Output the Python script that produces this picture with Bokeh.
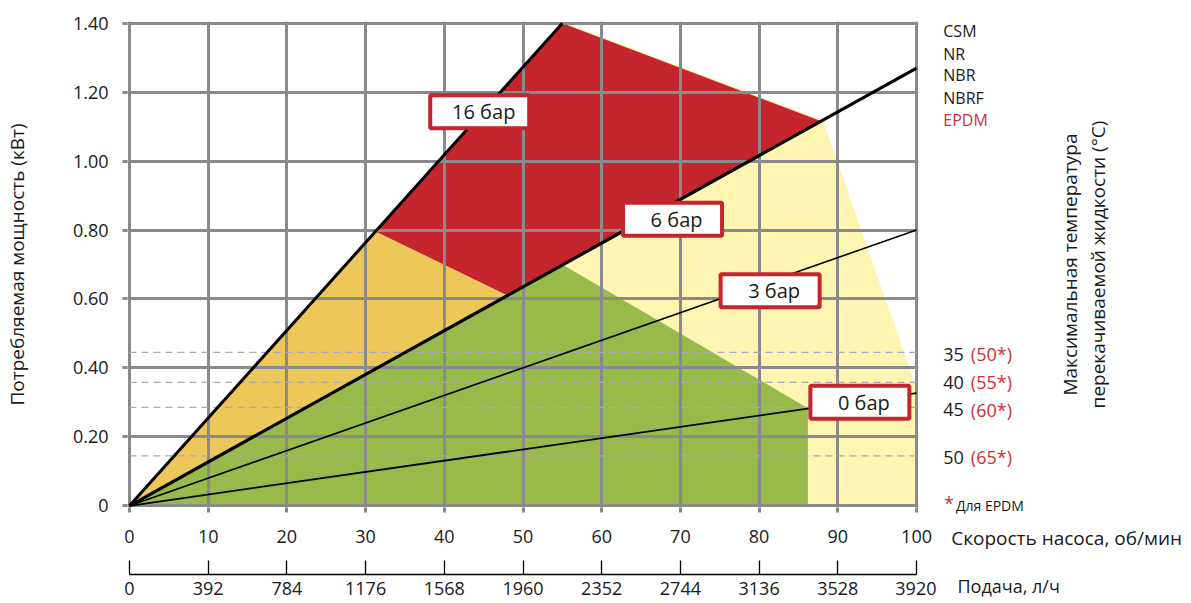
import math
from bokeh.plotting import figure
from bokeh.layouts import row
from bokeh.models import Range1d, LinearAxis, FixedTicker
from bokeh.embed import file_html
from bokeh.resources import INLINE
from bokeh.core.properties import value

# ---------------- data ----------------
speed_ticks = [0, 10, 20, 30, 40, 50, 60, 70, 80, 90, 100]
flow_ticks = [0, 392, 784, 1176, 1568, 1960, 2352, 2744, 3136, 3528, 3920]
power_ticks = [0, 0.2, 0.4, 0.6, 0.8, 1.0, 1.2, 1.4]
power_labels = ["0", "0.20", "0.40", "0.60", "0.80", "1.00", "1.20", "1.40"]

# operating regions (speed %, power kW)
yellow_x = [0, 55, 88, 100, 100]
yellow_y = [0, 1.40, 1.115, 0.33, 0]
red_x = [31.3, 55, 88, 48]
red_y = [0.795, 1.40, 1.115, 0.61]
orange_x = [0, 31.3, 48]
orange_y = [0, 0.795, 0.61]
green_x = [0, 55, 86.2, 86.2]
green_y = [0, 0.70, 0.283, 0]

# pressure lines
line16_x, line16_y = [0, 55], [0, 1.40]
line6_x, line6_y = [0, 100], [0, 1.27]
line3_x, line3_y = [0, 100], [0, 0.80]
line0_x, line0_y = [0, 100], [0, 0.327]

# temperature limit levels (dashed)
temp_levels = [0.445, 0.358, 0.2855, 0.145]

# pressure labels
box_text = ["16 бар", "6 бар", "3 бар", "0 бар"]
box_x = [44.5, 69.0, 81.4, 92.8]
box_y = [1.143, 0.831, 0.624, 0.30]

# right-hand texts (positions in chart units)
materials = ["CSM", "NR", "NBR", "NBRF"]
materials_y = [1.378, 1.312, 1.249, 1.183]
epdm_y = 1.120
temps = ["35", "40", "45", "50"]
temps_epdm = ["(50*)", "(55*)", "(60*)", "(65*)"]
temps_y = [0.4386, 0.358, 0.278, 0.140]

# ---------------- style ----------------
FONT = "Open Sans"
GRID = "#8A8A8D"
RED = "#C5252D"
YEL = "#FEF5B2"
TXT = "#1A1A1A"
RTXT = "#CC3033"

PX_X = 7.88      # px per speed unit
PX_Y = 344.29    # px per kW
X0_PAGE = 128    # page x of speed 0
Y0_PAGE = 505    # page y of power 0
H = 598

p = figure(width=936, height=H,
           x_range=Range1d(-0.25, 100.25), y_range=Range1d(-0.005, 1.405),
           output_backend="svg", toolbar_location=None,
           min_border_left=126, min_border_right=18,
           min_border_top=21, min_border_bottom=91)
p.outline_line_color = None
p.frame_align = False

# fills
for xs, ys, c, lc in [(yellow_x, yellow_y, YEL, YEL), (red_x, red_y, RED, None),
                      (orange_x, orange_y, "#EEC75B", None), (green_x, green_y, "#97BA4B", None)]:
    r = p.patch(xs, ys, fill_color=c, line_color=lc, line_width=2.5)
    r.level = "image"

# grid
p.xgrid.ticker = FixedTicker(ticks=speed_ticks)
p.ygrid.ticker = FixedTicker(ticks=power_ticks)
for g in (p.xgrid, p.ygrid):
    g.grid_line_color = GRID
    g.grid_line_width = 3

# dashed temperature levels
for lv in temp_levels:
    p.line([speed_ticks[0], speed_ticks[-1]], [lv, lv], line_color="#A8A8BE",
           line_width=1.2, line_dash="7 5")

# pressure lines
p.line(line16_x, line16_y, line_color="black", line_width=3)
p.line(line6_x, line6_y, line_color="black", line_width=3.2)
p.line(line3_x, line3_y, line_color="black", line_width=1.6)
p.line(line0_x, line0_y, line_color="black", line_width=1.8)

# label boxes
rb = p.rect(x=box_x, y=box_y, width=99, height=33, width_units="screen",
            height_units="screen", fill_color="white", line_color=RED, line_width=4)
rb.level = "annotation"
tb = p.text(x=box_x, y=box_y, text=box_text, text_align="center", text_baseline="middle",
            x_offset=4, text_font=value(FONT), text_font_size="20px", text_color=TXT)
tb.level = "annotation"

# left axis
ya = p.yaxis[0]
ya.ticker = FixedTicker(ticks=power_ticks)
ya.major_label_overrides = {t: l for t, l in zip(power_ticks, power_labels)}
ya.axis_label = "Потребляемая мощность (кВт)"
ya.axis_label_text_font = FONT
ya.axis_label_text_font_style = "normal"
ya.axis_label_text_font_size = "19px"
ya.axis_label_text_color = TXT
ya.axis_label_standoff = 40
ya.major_label_text_font = FONT
ya.major_label_text_font_size = "18px"
ya.major_label_text_color = TXT
ya.major_label_standoff = 14
ya.axis_line_color = None
ya.major_tick_line_color = GRID
ya.major_tick_line_width = 3
ya.major_tick_out = 5
ya.major_tick_in = 0
ya.minor_tick_line_color = None

# bottom axis: speed
xa = p.xaxis[0]
xa.ticker = FixedTicker(ticks=speed_ticks)
xa.axis_label = " "
xa.axis_label_text_font_size = "12px"
xa.axis_label_standoff = 12
xa.major_label_text_font = FONT
xa.major_label_text_font_size = "18px"
xa.major_label_text_color = TXT
xa.major_label_standoff = 17
xa.axis_line_color = None
xa.major_tick_line_color = GRID
xa.major_tick_line_width = 3
xa.major_tick_out = 5
xa.major_tick_in = 0
xa.minor_tick_line_color = None

# bottom axis: flow
scale = flow_ticks[-1] / speed_ticks[-1]
p.extra_x_ranges = {"flow": Range1d(p.x_range.start * scale, p.x_range.end * scale)}
fa = LinearAxis(x_range_name="flow", ticker=FixedTicker(ticks=flow_ticks),
                bounds=(flow_ticks[0], flow_ticks[-1]))
fa.major_label_text_font = FONT
fa.major_label_text_font_size = "18px"
fa.major_label_text_color = TXT
fa.major_label_standoff = 7
fa.axis_line_color = "black"
fa.axis_line_width = 1.3
fa.major_tick_line_color = "black"
fa.major_tick_line_width = 1.3
fa.major_tick_in = 14
fa.major_tick_out = 0
fa.minor_tick_line_color = None
p.add_layout(fa, "below")

# ---------------- side panel with right-hand texts ----------------
SIDE_W = 252
side_left_page = 936
s = figure(width=SIDE_W, height=H,
           x_range=Range1d((side_left_page - X0_PAGE) / PX_X,
                           (side_left_page + SIDE_W - X0_PAGE) / PX_X),
           y_range=Range1d((Y0_PAGE - H) / PX_Y, Y0_PAGE / PX_Y),
           output_backend="svg", toolbar_location=None,
           x_axis_location=None, y_axis_location=None,
           min_border_left=0, min_border_right=0, min_border_top=0, min_border_bottom=0)
s.outline_line_color = None
s.frame_align = False
s.xgrid.visible = False
s.ygrid.visible = False


def txt(x, y, t, color=TXT, size="16px", **kw):
    s.text(x=[x], y=[y], text=[t], text_font=value(FONT), text_font_size=size,
           text_color=color, text_baseline="middle", **kw)


for m, yy in zip(materials, materials_y):
    txt(103.4, yy, m)
txt(103.4, epdm_y, "EPDM", color=RTXT)
for t, te, yy in zip(temps, temps_epdm, temps_y):
    txt(103.4, yy, t, size="18px")
    txt(106.9, yy, te, color=RTXT, size="18px")
txt(103.5, 0.008, "*", color=RTXT, size="18px")
txt(105.0, 0.0, "Для EPDM", size="14px")

txt(104.4, -0.093, "Скорость насоса, об/мин", size="19px")
txt(105.2, -0.233, "Подача, л/ч", size="18px")

txt(119.5, 0.70, "Максимальная температура", size="19px", angle=math.pi / 2, text_align="center")
txt(123.0, 0.70, "перекачиваемой жидкости (°C)", size="19px", angle=math.pi / 2, text_align="center")

open("out.html", "w").write(file_html(row(p, s), INLINE))
